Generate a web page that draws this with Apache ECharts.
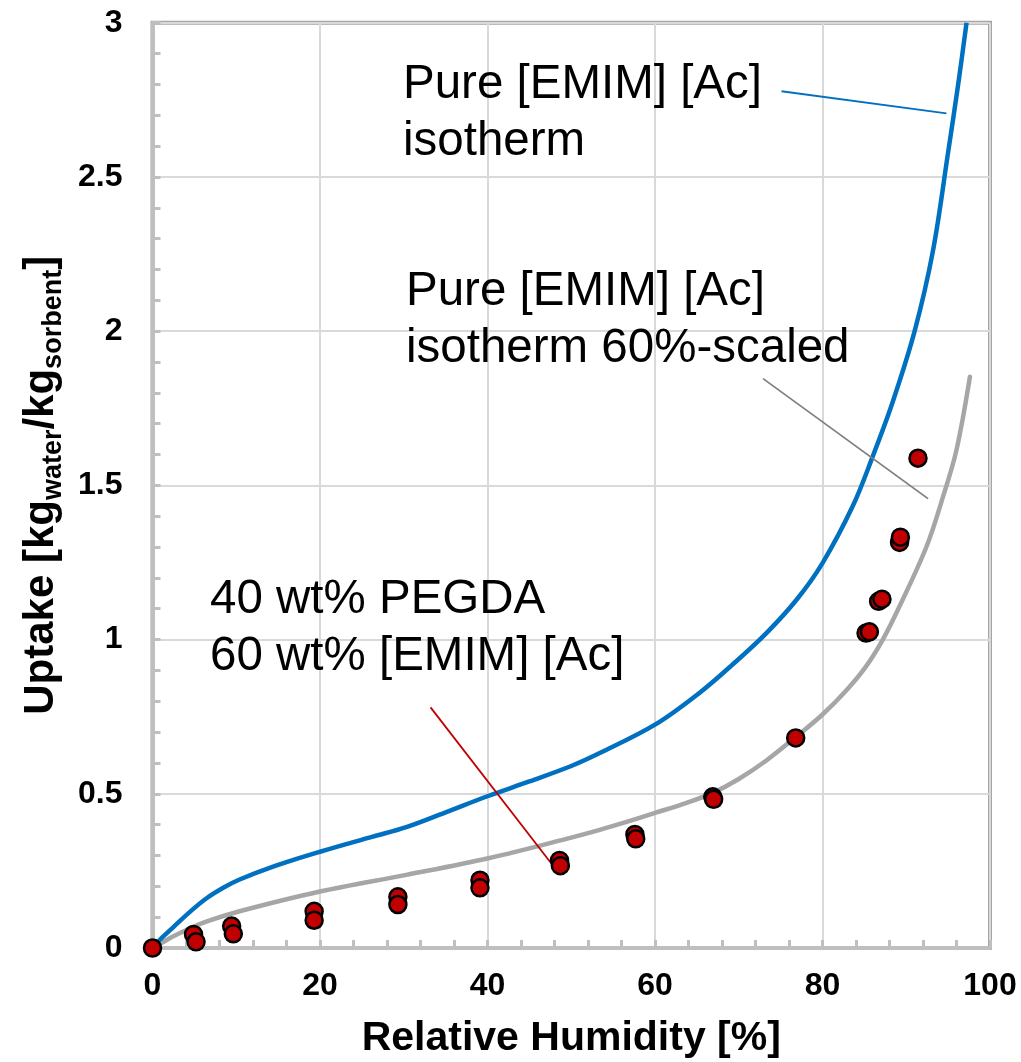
<!DOCTYPE html>
<html>
<head>
<meta charset="utf-8">
<script src="https://cdn.jsdelivr.net/npm/echarts/dist/echarts.min.js"></script>
<style>
  html, body { margin: 0; padding: 0; background: #fff; }
  #chart { width: 1021px; height: 1062px; }
</style>
</head>
<body>
<div id="chart"></div>
<script>
  // pure [EMIM][Ac] isotherm (blue)
  var pureX = [0, 1, 2.5, 4.5, 6.5, 8.5, 10.4, 14.4, 20, 26.3, 30.3, 35, 40, 45, 50, 53.4, 60, 65.3, 69.3, 73.3, 76.9, 80, 83.6, 86, 88.4, 91, 93.2, 95, 96.2, 97.2];
  var pureY = [0, 0.03, 0.068, 0.118, 0.162, 0.196, 0.222, 0.264, 0.312, 0.361, 0.392, 0.44, 0.492, 0.54, 0.59, 0.632, 0.724, 0.827, 0.92, 1.021, 1.129, 1.248, 1.432, 1.594, 1.772, 2.0, 2.262, 2.58, 2.8, 3.0];

  // 60%-scaled isotherm (grey)
  var scaledX = [0, 1, 2.5, 4.5, 6.5, 10.4, 20, 30.3, 40.1, 50, 53.4, 56.5, 60, 63.7, 66.9, 70, 73.3, 76.9, 80, 83, 85.2, 87.2, 89.2, 92.4, 94.4, 96, 97.6];
  var scaledY = [0, 0.015, 0.038, 0.064, 0.086, 0.119, 0.183, 0.237, 0.291, 0.358, 0.383, 0.408, 0.438, 0.47, 0.503, 0.548, 0.608, 0.686, 0.757, 0.84, 0.913, 1.0, 1.108, 1.3, 1.464, 1.615, 1.852];

  // 40 wt% PEGDA / 60 wt% [EMIM][Ac] measurements
  var measX = [0, 4.9, 5.2, 9.45, 9.65, 19.3, 19.3, 29.3, 29.3, 39.1, 39.1, 48.6, 48.7, 57.6, 57.7, 66.9, 67.0, 76.8, 85.2, 85.6, 86.7, 87.1, 89.2, 89.3, 91.4];
  var measY = [0, 0.044, 0.02, 0.071, 0.046, 0.119, 0.09, 0.166, 0.141, 0.22, 0.195, 0.284, 0.267, 0.368, 0.354, 0.49, 0.482, 0.681, 1.021, 1.025, 1.124, 1.131, 1.315, 1.332, 1.588];

  // leader lines of the annotations
  var leadPure = [[75.1, 2.778], [94.8, 2.706]];
  var leadScaled = [[72.9, 1.846], [92.6, 1.457]];
  var leadMeas = [[33.2, 0.78], [47.6, 0.275]];

  var font = "'Liberation Sans', Arial, sans-serif";

  function zip(xs, ys) {
    var out = [];
    for (var i = 0; i < xs.length; i++) {
      out.push([xs[i], ys[i]]);
    }
    return out;
  }

  var myChart = echarts.init(document.getElementById('chart'));

  var axisGrey = '#bfbfbf';

  myChart.setOption({
    animation: false,
    backgroundColor: '#fff',
    grid: {
      left: 152.5,
      right: 31,
      top: 22.7,
      bottom: 114,
      outerBoundsMode: 'none',
      containLabel: false,
      show: true,
      borderColor: '#a6a6a6',
      borderWidth: 4,
      backgroundColor: 'transparent'
    },
    xAxis: {
      type: 'value',
      min: 0,
      max: 100,
      interval: 20,
      name: 'Relative Humidity [%]',
      nameLocation: 'middle',
      nameGap: 70,
      nameTextStyle: {
        fontFamily: font,
        fontWeight: 'bold',
        fontSize: 41,
        color: '#000'
      },
      axisLine: {lineStyle: {color: axisGrey, width: 4}},
      axisTick: {inside: true, length: 8, lineStyle: {color: axisGrey, width: 3}},
      minorTick: {show: true, splitNumber: 5, length: 8, lineStyle: {color: axisGrey, width: 3}},
      splitLine: {lineStyle: {color: '#d9d9d9', width: 2}},
      axisLabel: {
        margin: 22,
        fontFamily: font,
        fontWeight: 'bold',
        fontSize: 32,
        color: '#000'
      }
    },
    yAxis: {
      type: 'value',
      min: 0,
      max: 3,
      interval: 0.5,
      name: '{b|Uptake [kg}{s|water}{b|/kg}{s|sorbent}{b|]}',
      nameLocation: 'middle',
      nameRotate: 90,
      nameGap: 75,
      nameTextStyle: {
        rich: {
          b: {fontFamily: font, fontWeight: 'bold', fontSize: 42, lineHeight: 52, color: '#000'},
          s: {fontFamily: font, fontWeight: 'bold', fontSize: 27, lineHeight: 27, verticalAlign: 'bottom', color: '#000'}
        }
      },
      axisLine: {lineStyle: {color: axisGrey, width: 4}},
      axisTick: {inside: true, length: 8, lineStyle: {color: axisGrey, width: 3}},
      minorTick: {show: true, splitNumber: 5, length: 8, lineStyle: {color: axisGrey, width: 3}},
      splitLine: {lineStyle: {color: '#d9d9d9', width: 2}},
      axisLabel: {
        margin: 30,
        fontFamily: font,
        fontWeight: 'bold',
        fontSize: 32,
        color: '#000'
      }
    },
    graphic: [
      {
        type: 'text', left: 403, top: 56, z: 50,
        style: {text: 'Pure [EMIM] [Ac]\nisotherm', fontFamily: font, fontSize: 47.5, lineHeight: 57, fill: '#000'}
      },
      {
        type: 'text', left: 406, top: 263, z: 50,
        style: {text: 'Pure [EMIM] [Ac]\nisotherm 60%-scaled', fontFamily: font, fontSize: 47.5, lineHeight: 57, fill: '#000'}
      },
      {
        type: 'text', left: 210, top: 571, z: 50,
        style: {text: '40 wt% PEGDA\n60 wt% [EMIM] [Ac]', fontFamily: font, fontSize: 47.5, lineHeight: 57, fill: '#000'}
      }
    ],
    series: [
      {
        name: 'pure',
        type: 'line',
        data: zip(pureX, pureY),
        smooth: 0.35,
        showSymbol: false,
        lineStyle: {color: '#0070c0', width: 4.5},
        z: 3
      },
      {
        name: 'scaled',
        type: 'line',
        data: zip(scaledX, scaledY),
        smooth: 0.35,
        showSymbol: false,
        lineStyle: {color: '#a6a6a6', width: 4.5, cap: 'round'},
        z: 2
      },
      {
        name: 'leadPure',
        type: 'line',
        data: leadPure,
        showSymbol: false,
        lineStyle: {color: '#0070c0', width: 2},
        z: 4
      },
      {
        name: 'leadScaled',
        type: 'line',
        data: leadScaled,
        showSymbol: false,
        lineStyle: {color: '#7f7f7f', width: 1.8},
        z: 4
      },
      {
        name: 'leadMeas',
        type: 'line',
        data: leadMeas,
        showSymbol: false,
        lineStyle: {color: '#c00000', width: 1.8},
        z: 4
      },
      {
        name: 'measured',
        type: 'scatter',
        data: zip(measX, measY),
        symbol: 'circle',
        symbolSize: 17,
        itemStyle: {color: '#c00000', borderColor: '#000', borderWidth: 2.5, opacity: 1},
        z: 5
      }
    ]
  });
</script>
</body>
</html>
